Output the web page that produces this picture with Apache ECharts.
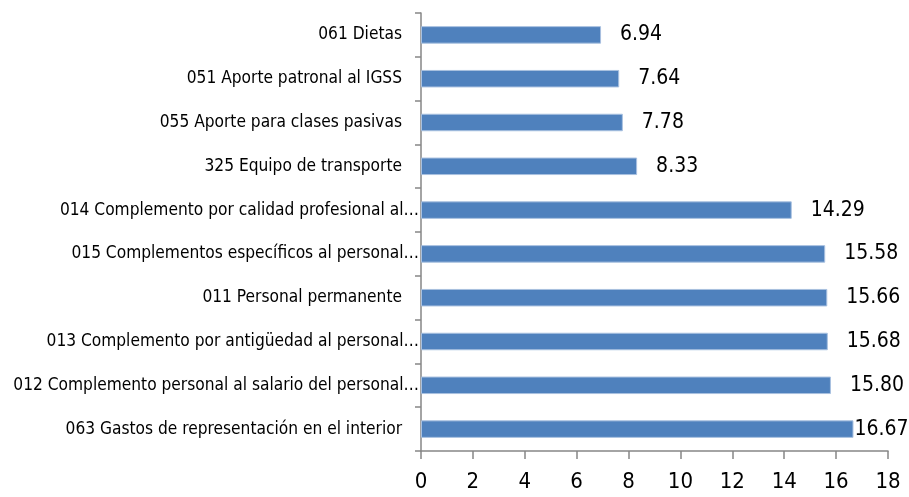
<!DOCTYPE html>
<html>
<head>
<meta charset="utf-8">
<script src="https://cdn.jsdelivr.net/npm/echarts@6/dist/echarts.min.js"></script>
<style>html,body{margin:0;padding:0;background:#fff}#c{width:909px;height:497px}</style>
</head>
<body>
<div id="c"></div>
<script>
const categories = [
  "061 Dietas",
  "051 Aporte patronal al IGSS",
  "055 Aporte para clases pasivas",
  "325 Equipo de transporte",
  "014 Complemento por calidad profesional al…",
  "015 Complementos específicos al personal…",
  "011 Personal permanente",
  "013 Complemento por antigüedad al personal…",
  "012 Complemento personal al salario del personal…",
  "063 Gastos de representación en el interior"
];
const values = [6.94, 7.64, 7.78, 8.33, 14.29, 15.58, 15.66, 15.68, 15.80, 16.67];
const xTicks = [0, 2, 4, 6, 8, 10, 12, 14, 16, 18];

const FONT = '"Liberation Sans Narrow", "Arial Narrow", "DejaVu Sans Condensed", sans-serif';
const CAT_SIZE = 17.2;
const chart = echarts.init(document.getElementById('c'));
const lastIdx = values.length - 1;
chart.setOption({
  animation: false,
  grid: { left: 421, right: 21, top: 13, bottom: 46, containLabel: false, outerBoundsMode: 'none' },
  xAxis: {
    type: 'value', min: xTicks[0], max: xTicks[xTicks.length - 1], interval: 2,
    splitLine: { show: false },
    axisLine: { show: true, lineStyle: { color: '#868686', width: 1.5 } },
    axisTick: { show: true, length: 8, lineStyle: { color: '#868686', width: 1.5 } },
    axisLabel: { fontFamily: FONT, fontSize: 22, color: '#000', margin: 20 }
  },
  yAxis: {
    type: 'category', data: categories, inverse: true,
    axisLine: { show: true, lineStyle: { color: '#868686', width: 1.5 } },
    axisTick: { show: true, length: 6, lineStyle: { color: '#868686', width: 1.5 } },
    axisLabel: {
      fontFamily: FONT, fontSize: CAT_SIZE, color: '#000', margin: 2,
      formatter: v => v.endsWith('…') ? '{e|' + v + '}' : '{n|' + v + '}',
      rich: {
        e: { fontFamily: FONT, fontSize: CAT_SIZE, color: '#000', padding: [0, 0, 0, 0] },
        n: { fontFamily: FONT, fontSize: CAT_SIZE, color: '#000', padding: [0, 17, 0, 0] }
      }
    }
  },
  series: [{
    type: 'bar',
    barCategoryGap: '60%',
    data: values.map((v, i) => ({
      value: v,
      label: { distance: i === lastIdx ? 1 : 19 }
    })),
    itemStyle: { color: '#4F81BD', borderColor: '#A9C1E0', borderWidth: 1 },
    label: {
      show: true, position: 'right', fontFamily: FONT, fontSize: 21, color: '#000',
      formatter: p => p.value.toFixed(2)
    }
  }]
});
</script>
</body>
</html>
